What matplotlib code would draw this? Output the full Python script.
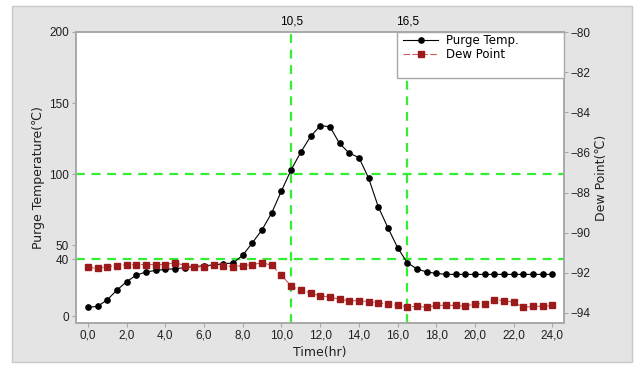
import matplotlib
matplotlib.use("Agg")
import matplotlib.pyplot as plt
from matplotlib.patches import Rectangle
from matplotlib.ticker import FuncFormatter

plt.rcParams['font.family'] = ['Liberation Sans', 'DejaVu Sans']
plt.rcParams['font.size'] = 8.5

# datos
tiempo = [i * 0.5 for i in range(49)]
purge_temp = [6.3, 7.0, 11.7, 18.5, 24.4, 29.0, 31.2, 32.3, 33.0, 33.5,
              34.2, 35.0, 35.6, 36.1, 37.0, 37.5, 43.0, 51.8, 61.0, 72.9,
              88.3, 103.1, 115.5, 126.5, 134.0, 133.5, 121.6, 114.8, 111.7, 97.3,
              77.1, 62.3, 48.3, 37.7, 33.3, 31.2, 30.2, 29.5, 29.5, 29.5,
              29.5, 29.5, 29.5, 29.5, 29.5, 29.5, 29.5, 29.5, 29.5]
dew_point = [-91.73, -91.78, -91.69, -91.64, -91.59, -91.59, -91.59, -91.59, -91.59, -91.49,
             -91.64, -91.69, -91.73, -91.59, -91.66, -91.69, -91.64, -91.59, -91.49, -91.63,
             -92.11, -92.67, -92.86, -93.00, -93.15, -93.20, -93.32, -93.39, -93.39, -93.44,
             -93.49, -93.57, -93.62, -93.70, -93.67, -93.72, -93.62, -93.62, -93.62, -93.67,
             -93.54, -93.54, -93.34, -93.39, -93.46, -93.72, -93.67, -93.67, -93.62]
marcas_v = [10.5, 16.5]
marcas_h = [40, 100]
yticks_izq = [0, 40, 50, 100, 150, 200]
yticks_der = [-80, -82, -84, -86, -88, -90, -92, -94]
xticks = [0, 2, 4, 6, 8, 10, 12, 14, 16, 18, 20, 22, 24]

fig = plt.figure(figsize=(6.35, 3.67), dpi=100)
fig.patch.set_facecolor('white')
fondo = Rectangle((12 / 635, 5 / 367), 620 / 635, 356 / 367,
                  transform=fig.transFigure, facecolor='#e4e4e4',
                  edgecolor='#c8c8c8', linewidth=1.0, zorder=-5)
fig.patches.append(fondo)

ax = fig.add_axes([76 / 635, 1 - 323 / 367, 488 / 635, 291 / 367])
ax.set_facecolor('white')
ax2 = ax.twinx()

gris = '#a8a8a8'
verde = '#33ee33'

for x in marcas_v:
    ax.axvline(x, color=verde, linestyle=(0, (4, 3)), linewidth=1.6, zorder=1)
for y in marcas_h:
    ax.axhline(y, color=verde, linestyle=(0, (4, 3)), linewidth=1.6, zorder=1)

l1, = ax.plot(tiempo, purge_temp, color='black', linewidth=0.8, marker='o',
              markersize=3.8, label='Purge Temp.', zorder=3)
l2, = ax2.plot(tiempo, dew_point, color='#c86060', linewidth=0.8, linestyle=(0, (6, 2)),
               marker='s', markersize=4.2, markerfacecolor='#9c1a1a',
               markeredgecolor='#9c1a1a', label='Dew Point', zorder=3)

ax.set_xlim(-0.62, 24.6)
ax.set_ylim(-4.7, 200)
ax2.set_ylim(-94.5, -80)

ax.set_xticks(xticks)
ax.xaxis.set_major_formatter(FuncFormatter(lambda v, p: f'{v:.1f}'.replace('.', ',')))
ax.set_yticks(yticks_izq)
ax2.set_yticks(yticks_der)

sec = ax.secondary_xaxis('top')
sec.set_xticks(marcas_v)
sec.set_xticklabels([f'{v:.1f}'.replace('.', ',') for v in marcas_v])
sec.tick_params(length=0, pad=3, labelsize=8.5)
sec.spines['top'].set_visible(False)

for a in (ax, ax2):
    for s in a.spines.values():
        s.set_color(gris)
        s.set_linewidth(1.2)
    a.tick_params(color=gris, length=3, width=0.8, labelcolor='#202020', labelsize=8.5, pad=2)

fuente_eje = dict(family=['DejaVu Sans'], fontsize=9, color='#202020')
ax.set_xlabel('Time(hr)', labelpad=3, **fuente_eje)
ax.set_ylabel('Purge Temperature(℃)', labelpad=3, **fuente_eje)
ax2.set_ylabel('Dew Point(℃)', labelpad=3, **fuente_eje)

# cuadro de leyenda
ax2.add_patch(Rectangle((0.658, 0.842), 0.342, 0.158, transform=ax2.transAxes,
                        facecolor='white', edgecolor=gris, linewidth=1.0,
                        zorder=5, clip_on=False))
leg = ax2.legend(handles=[l1, l2], loc='upper left', bbox_to_anchor=(0.66, 1.01),
                 frameon=False, prop={'family': 'DejaVu Sans', 'size': 8.5},
                 handlelength=3.0, handletextpad=0.7,
                 labelspacing=0.1, borderaxespad=0)
leg.set_zorder(6)

fig.savefig('out.png', dpi=100)
